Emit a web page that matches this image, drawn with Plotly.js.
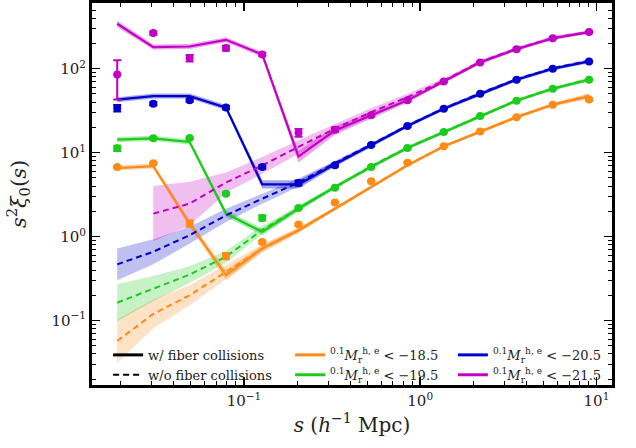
<!DOCTYPE html>
<html>
<head>
<meta charset="utf-8">
<script src="https://cdn.plot.ly/plotly-3.0.1.min.js"></script>
<style>
html,body{margin:0;padding:0;background:#fff;}
#chart{width:636px;height:448px;}
</style>
</head>
<body>
<div id="chart"></div>
<script>
// separation s (h^-1 Mpc) bin centres
const s = [0.0191, 0.0306, 0.0492, 0.0791, 0.127, 0.204, 0.328, 0.527, 0.847, 1.36, 2.19, 3.52, 5.65, 9.08];

// Mr < -18.5 (orange)
const orangeSolid  = [6.56, 6.92, 1.43, 0.347, 0.724, 1.19, 2.15, 3.9, 7.06, 11.9, 17.9, 26.5, 37.3, 46.8];
const orangeDashed = [0.057, 0.12, 0.2, 0.38, 0.72, 1.19, 2.15, 3.9, 7.1, 11.9, 17.9, 26.5, 37.3, 48];
const orangePts    = [6.75, 7.5, 1.43, 0.586, 0.86, 1.39, 2.54, 4.55, 7.6, 11.9, 17.9, 26.5, 37.3, 43];
const orangeErr    = [0.2, 0.2, 0.12, 0.05, 0.03, 0.04, 0.06, 0.1, 0.15, 0.2, 0.3, 0.5, 0.8, 1.5];
const orangeDashW  = [0.26, 0.17, 0.12, 0.08, 0.05, 0.03, 0.02, 0.02, 0.02, 0.015, 0.015, 0.015, 0.02, 0.03];
const orangeSolidW = [0.03, 0.03, 0.04, 0.06, 0.04, 0.03, 0.02, 0.02, 0.02, 0.02, 0.02, 0.02, 0.02, 0.03];

// Mr < -19.5 (green)
const greenSolid  = [14.3, 14.8, 13.4, 1.88, 1.14, 2.16, 3.9, 6.75, 11.35, 17.6, 27.3, 41.6, 57.8, 74];
const greenDashed = [0.163, 0.24, 0.353, 0.575, 1.2, 2.16, 3.9, 6.9, 11.5, 17.8, 27.5, 42, 58, 75];
const greenPts    = [11.3, 14.8, 14.9, 3.25, 1.67, 2.19, 3.83, 6.75, 11.35, 17.6, 27.3, 41.6, 57.8, 74];
const greenErr    = [0.8, 0.4, 0.4, 0.1, 0.12, 0.05, 0.08, 0.12, 0.2, 0.3, 0.4, 0.6, 0.8, 1.2];
const greenDashW  = [0.22, 0.15, 0.1, 0.07, 0.05, 0.03, 0.02, 0.02, 0.02, 0.015, 0.015, 0.015, 0.02, 0.02];
const greenSolidW = [0.03, 0.03, 0.03, 0.04, 0.04, 0.03, 0.02, 0.02, 0.02, 0.02, 0.02, 0.02, 0.02, 0.02];

// Mr < -20.5 (blue)
const blueSolid  = [42.8, 47.2, 47.2, 34.4, 4.19, 4.19, 7.26, 12.2, 20.8, 33.4, 50.3, 74, 100, 122];
const blueDashed = [0.467, 0.66, 1.04, 1.79, 2.83, 4.4, 7.5, 12.5, 21, 33.7, 51, 75, 101, 124];
const bluePts    = [34, 38.3, 42, 34.4, 6.75, 4.35, 7.06, 12.3, 20.8, 33.4, 50.3, 74, 100, 122];
const blueErr    = [3, 1.5, 1.5, 1.5, 0.3, 0.3, 0.2, 0.3, 0.4, 0.5, 0.7, 1, 1.5, 2];
const blueDashW  = [0.19, 0.15, 0.1, 0.08, 0.06, 0.05, 0.03, 0.02, 0.02, 0.015, 0.015, 0.015, 0.015, 0.02];
const blueSolidW = [0.03, 0.03, 0.03, 0.03, 0.05, 0.05, 0.03, 0.02, 0.02, 0.02, 0.02, 0.02, 0.02, 0.02];

// Mr < -21.5 (magenta)
const magSolid  = [343, 181, 184, 221, 148, 9.0, 18.4, 27.7, 42, 70.6, 119, 171, 231, 273];
const magDashed = [null, 1.88, 2.47, 4.4, 7.06, 11.7, 19.3, 30.4, 45.9, 72, 121, 173, 232, 274];
const magPts    = [85.5, 266, 134, 176, 148, 17.3, 18.8, 27.9, 42, 70.6, 119, 171, 231, 273];
const magErrUp  = [40.5, 12, 12, 12, 6, 1.8, 1.2, 1, 1.2, 1.5, 2, 3, 4, 5];
const magErrDn  = [42.5, 12, 12, 12, 6, 1.8, 1.2, 1, 1.2, 1.5, 2, 3, 4, 5];
const magDashW  = [null, 0.33, 0.26, 0.12, 0.1, 0.08, 0.06, 0.05, 0.04, 0.03, 0.02, 0.02, 0.02, 0.02];
const magSolidW = [0.04, 0.03, 0.03, 0.03, 0.03, 0.07, 0.05, 0.04, 0.03, 0.02, 0.02, 0.02, 0.02, 0.02];

// legend labels
const fiberLabels = ['w/ fiber collisions', 'w/o fiber collisions'];
const magLabels = ['−18.5', '−19.5', '−20.5', '−21.5'];

const colors = {orange: '#ff8a17', green: '#1ccc1c', blue: '#0000cc', magenta: '#c400c4'};
const fills  = {orange: 'rgba(255,138,23,', green: 'rgba(28,204,28,', blue: 'rgba(0,0,204,', magenta: 'rgba(196,0,196,'};

function bandTraces(y, w, key, alpha) {
  const xs = [], lo = [], hi = [];
  for (let i = 0; i < s.length; i++) {
    if (y[i] == null || w[i] == null) continue;
    xs.push(s[i]);
    lo.push(y[i] * Math.pow(10, -w[i]));
    hi.push(y[i] * Math.pow(10, w[i]));
  }
  return [
    {x: xs, y: lo, mode: 'lines', line: {width: 0, color: 'rgba(0,0,0,0)'}, showlegend: false, hoverinfo: 'skip'},
    {x: xs, y: hi, mode: 'lines', line: {width: 0, color: 'rgba(0,0,0,0)'}, fill: 'tonexty',
     fillcolor: fills[key] + alpha + ')', showlegend: false, hoverinfo: 'skip'}
  ];
}

function lineTrace(y, key, dash) {
  const xs = [], ys = [];
  for (let i = 0; i < s.length; i++) { if (y[i] != null) { xs.push(s[i]); ys.push(y[i]); } }
  return {x: xs, y: ys, mode: 'lines', line: {color: colors[key], width: dash ? 2 : 2.2, dash: dash ? '6px,4px' : 'solid'},
          showlegend: false};
}

function ptsTrace(y, up, dn, key) {
  return {x: s, y: y, mode: 'markers', marker: {color: colors[key], size: 8},
          error_y: {type: 'data', array: up, arrayminus: dn, symmetric: false, color: colors[key], thickness: 2, width: 4},
          showlegend: false};
}

const series = [
  ['orange', orangeSolid, orangeDashed, orangePts, orangeErr, orangeErr, orangeDashW, orangeSolidW],
  ['green', greenSolid, greenDashed, greenPts, greenErr, greenErr, greenDashW, greenSolidW],
  ['blue', blueSolid, blueDashed, bluePts, blueErr, blueErr, blueDashW, blueSolidW],
  ['magenta', magSolid, magDashed, magPts, magErrUp, magErrDn, magDashW, magSolidW]
];

const traces = [];
series.forEach(sr => {
  const [key, sol, das, pts, eu, ed, dw, sw] = sr;
  traces.push(...bandTraces(das, dw, key, 0.25));
  traces.push(...bandTraces(sol, sw, key, 0.35));
});
series.forEach(sr => {
  const [key, sol, das] = sr;
  traces.push(lineTrace(das, key, true));
  traces.push(lineTrace(sol, key, false));
});
series.forEach(sr => {
  const [key, sol, das, pts, eu, ed] = sr;
  traces.push(ptsTrace(pts, eu, ed, key));
});

// legend entries
traces.push({x: [null], y: [null], mode: 'lines', name: fiberLabels[0], line: {color: 'black', width: 3}, legend: 'legend'});
traces.push({x: [null], y: [null], mode: 'lines', name: fiberLabels[1], line: {color: 'black', width: 2, dash: '6px,4px'}, legend: 'legend'});
const keys = ['orange', 'green', 'blue', 'magenta'];
const legs = ['legend2', 'legend2', 'legend3', 'legend3'];
keys.forEach((k, i) => {
  traces.push({x: [null], y: [null], mode: 'lines', line: {color: colors[k], width: 3}, legend: legs[i],
    name: '<sup>0.1</sup><i>M</i><sub>r</sub><sup>h, e</sup> &lt; ' + magLabels[i]});
});

const xMinor = [], yMinor = [];
[0.01, 0.1, 1, 10].forEach(d => { for (let m = 2; m <= 9; m++) xMinor.push(d * m); });
[0.01, 0.1, 1, 10, 100].forEach(d => { for (let m = 2; m <= 9; m++) yMinor.push(d * m); });

const legBase = {orientation: 'v', bgcolor: 'rgba(0,0,0,0)', borderwidth: 0, tracegroupgap: 0, traceorder: 'normal',
  font: {family: 'DejaVu Serif', size: 13, color: '#222'}, yanchor: 'top', xanchor: 'left', y: 0.118};

const axBase = {
  type: 'log', showline: true, linewidth: 3, linecolor: 'black', mirror: 'allticks',
  ticks: 'inside', ticklen: 8, tickwidth: 1.5, tickcolor: 'black', showgrid: false, zeroline: false,
  tickfont: {family: 'DejaVu Serif', size: 15, color: '#222'},
  minor: {ticks: 'inside', ticklen: 4, tickwidth: 1, tickcolor: 'black', tickmode: 'array', showgrid: false}
};

const layout = {
  width: 636, height: 448,
  margin: {l: 92, r: 24, t: 3, b: 63},
  paper_bgcolor: 'white', plot_bgcolor: 'white',
  font: {family: 'DejaVu Serif', color: '#222'},
  xaxis: Object.assign({}, axBase, {
    range: [Math.log10(0.01374), Math.log10(12.25)],
    tickmode: 'array', tickvals: [0.1, 1, 10], ticktext: ['10<sup>−1</sup>', '10<sup>0</sup>', '10<sup>1</sup>'],
    minor: Object.assign({}, axBase.minor, {tickvals: xMinor}),
    title: {text: '<i>s</i> (<i>h</i><sup>−1</sup> Mpc)', font: {family: 'DejaVu Serif', size: 20, color: '#222'}, standoff: 9}
  }),
  yaxis: Object.assign({}, axBase, {
    range: [-1.768, 2.783],
    tickmode: 'array', tickvals: [0.1, 1, 10, 100], ticktext: ['10<sup>−1</sup>', '10<sup>0</sup>', '10<sup>1</sup>', '10<sup>2</sup>'],
    minor: Object.assign({}, axBase.minor, {tickvals: yMinor}),
    title: {text: '<i>s</i><sup>2</sup><i>ξ</i><sub>0</sub>(<i>s</i>)', font: {family: 'DejaVu Serif', size: 21, color: '#222'}, standoff: 20}
  }),
  legend: Object.assign({}, legBase, {x: 0.031}),
  legend2: Object.assign({}, legBase, {x: 0.381}),
  legend3: Object.assign({}, legBase, {x: 0.694}),
  showlegend: true
};

Plotly.newPlot('chart', traces, layout, {displayModeBar: false, staticPlot: true});
</script>
</body>
</html>
